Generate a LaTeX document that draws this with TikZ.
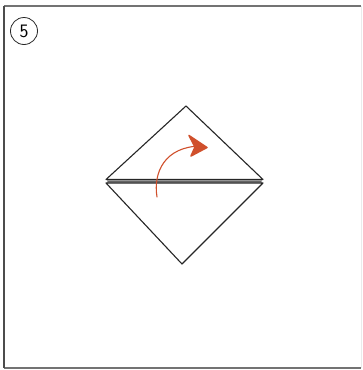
\documentclass[tikz,border=0pt]{standalone}
\usetikzlibrary{arrows.meta}
\definecolor{arrowred}{HTML}{D0502C}
\begin{document}
\begin{tikzpicture}[x=1pt,y=-1pt,
  frame/.style={draw=black!55,line width=1.3pt},
  paper/.style={draw=black!85,line width=1.1pt,line join=round},
  turn/.style={draw=arrowred,line width=1.1pt,line cap=round}]
\useasboundingbox (0,0) rectangle (362,370);
\fill[white] (0,0) rectangle (362,370);
% frame
\draw[frame] (4,6) -- (361,6);
\draw[frame] (4,368) -- (361,368);
\draw[draw=black!70,line width=1.6pt] (4,6) -- (4,368);
\draw[draw=black!8,line width=0.6pt] (361,6) -- (361,368);
% step number
\node[draw=black!85,circle,line width=0.8pt,minimum size=27pt,inner sep=0pt,font=\sffamily\fontsize{19}{19}\selectfont] (num) at (24,31) {5};
% diamond
\coordinate (T) at (186,106);
\coordinate (B) at (182,264);
\fill[black!35] (107,179.5) rectangle (262,183);
\draw[paper] (106,179.5) -- (T) -- (263,179.5) -- cycle;
\draw[paper] (106,183) -- (263,183) -- (B) -- cycle;
\draw[black!60,line width=0.5pt] (108,181.3) -- (261,181.3);
% arrow
\draw[turn] (157,197) .. controls (153,172) and (165,147) .. (200,146);
\fill[arrowred,draw=arrowred,line width=1.5pt,line join=round] (189,135.5) -- (207,147.5) -- (191,156) -- (195,147) -- cycle;
\end{tikzpicture}
\end{document}
